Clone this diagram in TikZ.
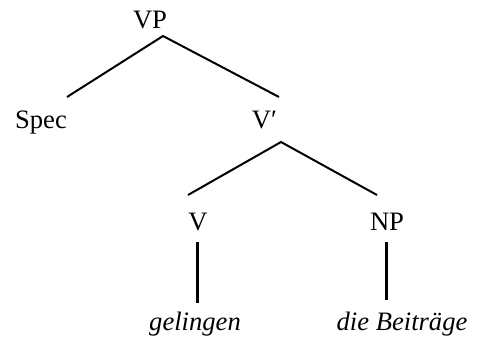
\documentclass[tikz,border=0pt]{standalone}
\usepackage{fontspec}
\setmainfont{Liberation Serif}
\begin{document}
\begin{tikzpicture}[x=1bp,y=-1bp,
  lbl/.style={anchor=base,inner sep=0pt,font=\fontsize{26.6bp}{32bp}\selectfont},
  branch/.style={line width=2bp},
  stem/.style={line width=3bp}]
\useasboundingbox (0,0) rectangle (477,341);
% labels
\node[lbl] (vp)   at (150,28)  {VP};
\node[lbl] (spec) at (41,128)  {Spec};
\node[lbl] (vbar) at (264.5,128) {V′};
\node[lbl] (v)    at (198,230) {V};
\node[lbl] (np)   at (387,230) {NP};
\node[lbl] (verb) at (195,330) {\itshape gelingen};
\node[lbl] (obj)  at (402,330) {\itshape die Beiträge};
% branch end points
\coordinate (vp-top)   at (163,36);
\coordinate (spec-end) at (67,97);
\coordinate (vbar-end) at (279,97);
\coordinate (vbar-top) at (281,142);
\coordinate (v-end)    at (188,195);
\coordinate (np-end)   at (377,195);
\coordinate (v-top)    at (197.5,242);
\coordinate (v-bot)    at (197.5,303);
\coordinate (np-top)   at (386,242);
\coordinate (np-bot)   at (386,300);
% branches
\draw[branch] (spec-end) -- (vp-top) -- (vbar-end);
\draw[branch] (v-end) -- (vbar-top) -- (np-end);
\draw[stem] (v-top) -- (v-bot);
\draw[stem] (np-top) -- (np-bot);
\end{tikzpicture}
\end{document}
